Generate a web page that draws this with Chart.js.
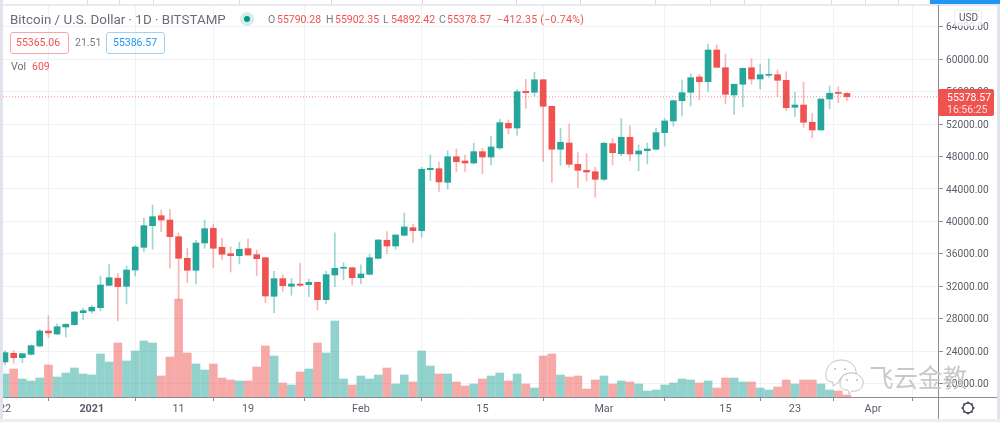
<!DOCTYPE html>
<html><head><meta charset="utf-8">
<style>
html,body{margin:0;padding:0;background:#fff;width:1000px;height:422px;overflow:hidden}
#wrap{position:relative;width:1000px;height:422px;filter:blur(.45px);font-family:Roboto,sans-serif}
canvas{position:absolute;left:0;top:0}
.t{position:absolute;white-space:nowrap;line-height:1}
.b{position:absolute}
</style>
<script src="https://cdn.jsdelivr.net/npm/chart.js@4"></script>
</head><body>
<div id="wrap">
<canvas id="c" width="1000" height="422"></canvas>
<div class="b" style="left:0;top:0;width:1000px;height:4px;background:#fff"></div>
<div class="b" style="left:87px;top:0;width:1px;height:4px;background:#d8dbe3"></div>
<div class="b" style="left:119px;top:0;width:1px;height:4px;background:#d8dbe3"></div>
<div class="b" style="left:153px;top:0;width:1px;height:4px;background:#d8dbe3"></div>
<div class="b" style="left:239px;top:0;width:1px;height:4px;background:#d8dbe3"></div>
<div class="b" style="left:331px;top:0;width:1px;height:4px;background:#d8dbe3"></div>
<div class="b" style="left:422px;top:0;width:1px;height:4px;background:#d8dbe3"></div>
<div class="b" style="left:516px;top:0;width:1px;height:4px;background:#d8dbe3"></div>
<div class="b" style="left:580px;top:0;width:1px;height:4px;background:#d8dbe3"></div>
<div class="b" style="left:655px;top:0;width:1px;height:4px;background:#d8dbe3"></div>
<div class="b" style="left:710px;top:0;width:1px;height:4px;background:#d8dbe3"></div>
<div class="b" style="left:744px;top:0;width:1px;height:4px;background:#d8dbe3"></div>
<div class="b" style="left:831px;top:0;width:1px;height:4px;background:#d8dbe3"></div>
<div class="b" style="left:865px;top:0;width:1px;height:4px;background:#d8dbe3"></div>
<div class="b" style="left:898px;top:0;width:1px;height:4px;background:#d8dbe3"></div>
<div class="b" style="left:0;top:4px;width:1000px;height:2px;background:#e8eaf0"></div>
<div class="b" style="left:0;top:0;width:3px;height:422px;background:#e0e3eb"></div>
<div class="b" style="left:997px;top:0;width:3px;height:422px;background:#e0e3eb"></div>
<div class="b" style="left:0;top:419px;width:1000px;height:3px;background:#eceef3"></div>
<div class="b" style="left:930px;top:0;width:70px;height:4px;background:#2196f3"></div>
<div class="b" style="left:938px;top:5px;width:1px;height:414px;background:#8a8d96"></div>
<div class="b" style="left:3px;top:397px;width:994px;height:1px;background:#8a8d96"></div>

<div class="t" style="left:10px;top:13px;font-size:13.4px;color:#6a6d78">Bitcoin / U.S. Dollar · 1D · BITSTAMP</div>
<div class="b" style="left:240px;top:12px;width:14px;height:14px;border-radius:50%;background:#d6ece9"></div>
<div class="b" style="left:244px;top:16px;width:6px;height:6px;border-radius:50%;background:#009688"></div>
<div class="t" style="left:268px;top:15px;font-size:10.5px;color:#787b86">O</div>
<div class="t" style="left:277px;top:15px;font-size:10.5px;color:#ef5350">55790.28</div>
<div class="t" style="left:326px;top:15px;font-size:10.5px;color:#787b86">H</div>
<div class="t" style="left:335px;top:15px;font-size:10.5px;color:#ef5350">55902.35</div>
<div class="t" style="left:383px;top:15px;font-size:10.5px;color:#787b86">L</div>
<div class="t" style="left:391px;top:15px;font-size:10.5px;color:#ef5350">54892.42</div>
<div class="t" style="left:439px;top:15px;font-size:10.5px;color:#787b86">C</div>
<div class="t" style="left:447px;top:15px;font-size:10.5px;color:#ef5350">55378.57</div>
<div class="t" style="left:497px;top:15px;font-size:10.5px;letter-spacing:.3px;color:#ef5350">−412.35 (−0.74%)</div>

<div class="b" style="left:9.5px;top:32px;width:57.5px;height:20px;border:1px solid #f5a8a6;border-radius:3px"></div>
<div class="t" style="left:16px;top:38px;font-size:10.5px;color:#ef5350">55365.06</div>
<div class="t" style="left:75px;top:38px;font-size:10.5px;color:#787b86">21.51</div>
<div class="b" style="left:106px;top:32px;width:57px;height:20px;border:1px solid #9ed2f8;border-radius:3px"></div>
<div class="t" style="left:113px;top:38px;font-size:10.5px;color:#2196f3">55386.57</div>
<div class="t" style="left:11px;top:62px;font-size:10.5px;color:#6a6d78">Vol</div>
<div class="t" style="left:32px;top:62px;font-size:10.5px;color:#ef5350">609</div>

<div class="b" style="left:954px;top:10px;width:26px;height:14px;background:rgba(255,255,255,.8);border:1px solid #eceef3;border-radius:3px"></div>
<div class="t" style="left:959px;top:13px;font-size:10px;color:#50535e">USD</div>
<div class="b" style="left:938px;top:89px;width:56px;height:27px;background:#ef5350;border-radius:2px"></div>
<div class="t" style="left:947px;top:92.5px;font-size:10.5px;color:#fff">55378.57</div>
<div class="t" style="left:947px;top:104.5px;font-size:10.5px;color:#fde0df">16:56:25</div>

<svg class="b" style="left:958px;top:399px" width="20" height="18" viewBox="0 0 20 18" fill="none" stroke="#3a3d47" stroke-width="1.3">
<circle cx="10" cy="9" r="5"/>
<path d="M10 2.5v2M10 13.5v2M3.5 9h2M14.5 9h2M5.4 4.4l1.4 1.4M13.2 12.2l1.4 1.4M14.6 4.4l-1.4 1.4M6.8 12.2l-1.4 1.4"/>
</svg>

<svg class="b" style="left:824px;top:358px" width="42" height="38" viewBox="0 0 42 38" fill="rgba(255,255,255,.75)" stroke="#bcbcbc" stroke-width=".9">
<path d="M3 22 C-1 12 6 2 17 2 C27 2 33 9 32 16 C25 13 16 17 15 24 L9 28 L9 24 C6 24 4 23 3 22Z"/>
<path d="M16 26 C16 18 23 14 29 15 C36 16 40 21 39 26 C38 31 33 34 28 33 L25 36 L24 32 C19 32 16 30 16 26Z"/>
<circle cx="11" cy="11" r="1" fill="#bcbcbc" stroke="none"/><circle cx="21" cy="11" r="1" fill="#bcbcbc" stroke="none"/>
<circle cx="23" cy="22" r="1" fill="#bcbcbc" stroke="none"/><circle cx="33" cy="22" r="1" fill="#bcbcbc" stroke="none"/>
</svg>
<div class="t" style="left:869px;top:365px;font-size:24.5px;font-family:'Noto Sans CJK SC';color:rgba(170,170,170,.65);text-shadow:0 0 1px #fff">飞云金教</div>
</div>
<script>
const tickIndex  = [0, 10, 20, 28, 41, 55, 69, 83, 91, 100];
const tickLabels = ["22", "2021", "11", "19", "Feb", "15", "Mar", "15", "23", "Apr"];
const priceTicks = [20000, 24000, 28000, 32000, 36000, 40000, 44000, 48000, 52000, 56000, 60000, 64000];
const lastPrice = 55378.57;

const opens = [22650,23720,23180,23600,24620,26470,26100,26970,27250,28730,28940,29350,32110,32980,31990,34000,36800,39470,40700,40170,
38110,35440,33960,37330,39150,36800,36010,35770,36630,35890,35520,30760,32930,31990,32270,32190,32480,30340,33380,34210,
34280,33050,33470,35440,37670,36960,38280,39220,38850,46380,46500,44820,47980,47450,47200,48600,47940,49060,52100,51520,
56050,55930,57480,54200,48900,49670,47040,46300,46130,45190,49590,48350,50380,48310,48720,48900,50950,52390,54890,55930,
57820,57240,61150,58960,55600,56920,58960,57570,58030,58100,57410,54080,54360,52230,51280,55100,55880,55790.28];
const highs = [24070,24040,23700,24750,26680,28360,27370,27370,28900,29310,29640,33260,34740,33590,34490,37050,40380,42020,41400,41490,
38570,36680,37700,40170,39680,37910,36880,37420,37860,36470,35570,33840,33420,32980,34830,32890,32520,33840,38600,34900,
34310,34650,35940,37790,38730,38350,41000,39680,46670,48190,47360,48690,48930,48190,49640,49020,50540,52600,52510,56300,
57530,58400,57500,54240,51490,52020,48480,48350,46670,49760,50200,52670,51810,49460,49670,51490,52720,54980,57450,58190,
58150,61850,61770,60650,56930,58930,60070,59420,60040,58680,58470,55930,57200,53340,55130,56710,56620,55902.35];
const lows = [22280,22490,22560,23480,24500,25700,26020,25730,27180,27870,28660,28980,32030,27710,29810,33260,36260,36560,38730,34210,
30300,32430,32270,36680,34280,35230,33750,34740,35790,33300,29970,28730,31370,30880,31940,30710,29060,29810,31940,32770,
32150,32270,33380,35360,36060,36560,38200,37370,38030,45020,43710,44000,46130,46130,47080,45880,46960,48900,50780,50620,
53950,55470,47360,44820,46920,46670,44160,44950,42970,45020,46960,48100,47490,46250,47080,48810,49300,51770,53000,54240,
55020,56000,59000,54480,53210,54150,56950,56300,57780,55390,53660,52920,51610,50330,51250,53900,54650,54892.42];
const closes = [23800,23180,23670,24660,26470,26230,27000,27300,28820,28980,29400,32150,33050,31940,34000,36840,39470,40580,40170,38110,
35440,33960,37330,39100,36680,35940,35770,36560,35850,35400,30790,32930,32060,32270,32110,32480,30340,33420,34210,34330,
33050,33510,35520,37700,36960,38320,39310,38850,46430,46550,44860,47980,47360,47200,48600,47940,49180,52180,51520,56000,
55880,57480,54200,48900,49760,47040,46300,46090,45190,49640,48480,50380,48310,48690,48930,50950,52390,54890,55880,57730,
57240,61150,59010,55680,56920,58890,57570,58100,58150,57410,54030,54360,52230,51280,55100,55810,55790,55378.57];
const volumes = [6900,8400,5400,4800,5700,9600,6000,7200,8700,6900,6600,12900,10500,16200,10800,13800,16800,16200,6300,12000,
29400,13200,9900,8100,9900,5700,5100,4800,4800,9000,15300,12300,4200,3600,7500,8400,16200,13200,22800,5400,
3600,6300,5400,6600,8700,3900,6600,4500,13800,9300,6900,6900,4500,3300,3900,5400,6300,7200,4800,6900,
3900,2700,12300,12900,6600,6000,6300,2400,5100,6300,3900,4800,4500,3900,1800,2100,3600,4200,5400,5100,
4200,4800,2700,5700,5700,4500,4500,2700,2100,3000,5100,3900,5100,5100,3900,2100,1800,609];

const UP = '#26a69a', DOWN = '#ef5350';
const isUp = closes.map((c, i) => c >= opens[i]);
const idx = closes.map((_, i) => i);

const box = {left: 3, right: 938, top: 6, bottom: 397};
const firstPx = 5, dayPx = 8.68;       // axis calibration: one day per 8.68 px
const xMin = (box.left - firstPx) / dayPx, xMax = (box.right - firstPx) / dayPx;
const priceMax = 66577, priceMin = 18327, volMax = 117300;
const noPad = s => { s.paddingLeft = s.paddingRight = s.paddingTop = s.paddingBottom = 0; };

new Chart(document.getElementById('c'), {
  type: 'bar',
  data: { datasets: [
    { label: 'body', order: 1, yAxisID: 'y', barThickness: 6, minBarLength: 1, grouped: false, borderWidth: 0,
      backgroundColor: isUp.map(u => u ? UP : DOWN),
      data: idx.map(i => ({x: i, y: [opens[i], closes[i]]})) },
    { label: 'wick', order: 2, yAxisID: 'y', barThickness: 1, grouped: false, borderWidth: 0,
      backgroundColor: isUp.map(u => u ? 'rgba(38,166,154,.45)' : 'rgba(239,83,80,.42)'),
      data: idx.map(i => ({x: i, y: [lows[i], highs[i]]})) },
    { type: 'line', label: 'last', order: 3, yAxisID: 'y', pointRadius: 0, borderWidth: 1, borderDash: [1, 2],
      borderColor: 'rgba(239,83,80,.6)', data: [{x: xMin, y: lastPrice}, {x: xMax, y: lastPrice}] },
    { label: 'vol', order: 4, yAxisID: 'v', barThickness: 8, grouped: false, borderWidth: 0,
      backgroundColor: isUp.map(u => u ? 'rgba(38,166,154,.5)' : 'rgba(239,83,80,.5)'),
      data: idx.map(i => ({x: i, y: volumes[i]})) }
  ]},
  options: {
    responsive: false, animation: false, events: [],
    layout: { padding: { top: box.top, left: box.left, right: 0, bottom: 0 } },
    plugins: { legend: {display: false}, tooltip: {enabled: false} },
    scales: {
      x: { type: 'linear', position: 'bottom', min: xMin, max: xMax, offset: false,
        afterBuildTicks: s => { s.ticks = tickIndex.map(v => ({value: v})); },
        afterFit: s => { s.height = 422 - box.bottom; noPad(s); },
        border: {display: false},
        grid: { color: '#eff2f8', lineWidth: 1, tickColor: '#8a8d96', tickLength: 4 },
        ticks: { autoSkip: false, maxRotation: 0, padding: 2, color: '#5a5d68',
          font: c => ({family: 'Roboto', size: 10.8, weight: c.tick && c.tick.value === 10 ? 'bold' : 'normal'}),
          callback: v => tickLabels[tickIndex.indexOf(v)] } },
      y: { type: 'linear', position: 'right', min: priceMin, max: priceMax,
        afterBuildTicks: s => { s.ticks = priceTicks.map(v => ({value: v})); },
        afterFit: s => { s.width = 1000 - box.right; noPad(s); },
        border: {display: false},
        grid: { color: '#eff2f8', lineWidth: 1, tickColor: '#8a8d96', tickLength: 5 },
        ticks: { padding: 3, labelOffset: 1, color: '#5a5d68', font: {family: 'Roboto', size: 10.2}, callback: v => v.toFixed(2) } },
      v: { type: 'linear', display: false, min: 0, max: volMax }
    }
  }
});
</script>
</body></html>
